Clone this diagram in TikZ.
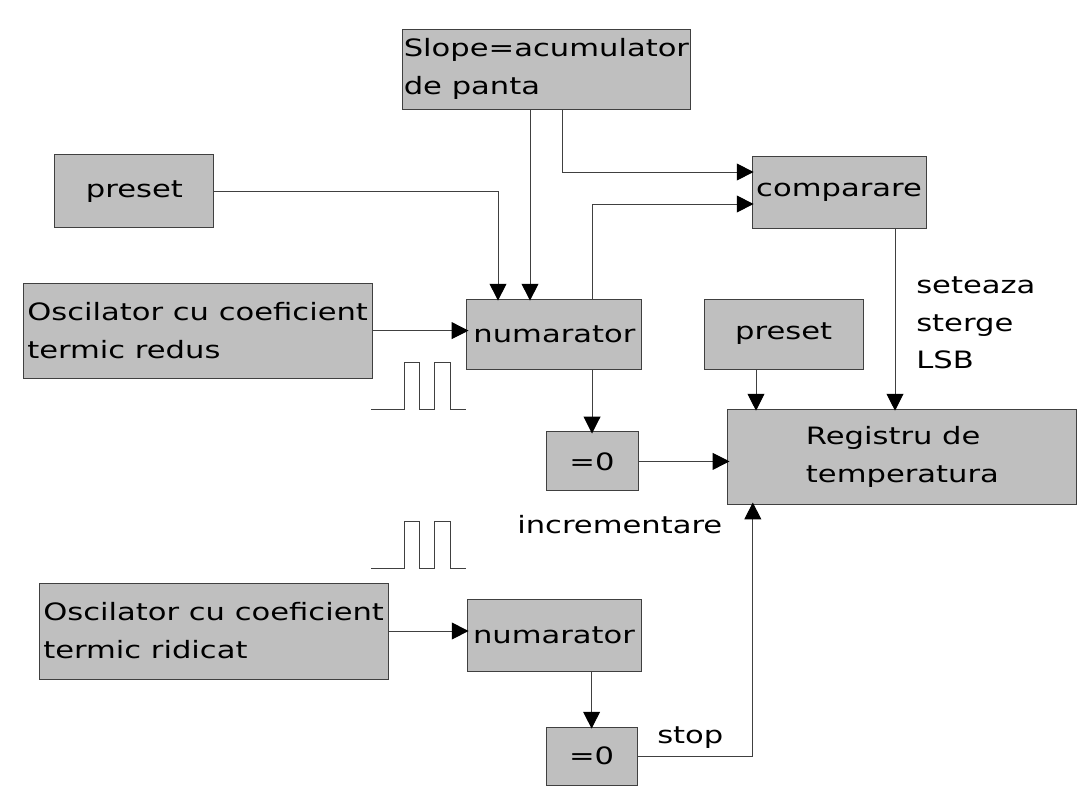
\documentclass[tikz,border=0pt]{standalone}
\usepackage{fontspec}
\setmainfont{DejaVu Sans}[FakeStretch=1.28]
\usetikzlibrary{arrows.meta}
\tikzset{
  blk/.style={draw=black!75, fill=gray!50, line width=0.7pt, inner sep=1pt, align=left,
    font=\fontsize{17}{27}\selectfont},
  arr/.style={-{Triangle[length=0.42cm, width=0.42cm, color=black]}, line width=0.7pt, black!75,
    shorten >=-1.5pt},
  wire/.style={line width=0.7pt, black!75},
  lbl/.style={font=\fontsize{17}{27}\selectfont, inner sep=0pt, align=left},
}

\begin{document}
\begin{tikzpicture}
  \useasboundingbox (0,0) rectangle (27.175,19.875);
  % blocks
  \node[blk, minimum width=7.125cm, minimum height=2cm] (slope) at (13.66,18.15) {Slope=acumulator\\de panta};
  \node[blk, minimum width=3.975cm, minimum height=1.825cm] (presetin) at (3.36,15.09) {preset};
  \node[blk, minimum width=4.35cm, minimum height=1.8cm] (comp) at (20.975,15.075) {comparare};
  \node[blk, minimum width=8.725cm, minimum height=2.375cm] (oscr) at (4.94,11.61) {Oscilator cu coeficient\\termic redus};
  \node[blk, minimum width=4.375cm, minimum height=1.75cm] (numr) at (13.86,11.525) {numarator};
  \node[blk, minimum width=3.975cm, minimum height=1.75cm] (presetreg) at (19.59,11.525) {preset};
  \node[blk, minimum width=2.3cm, minimum height=1.475cm] (zeror) at (14.8,8.34) {=0};
  \node[blk, minimum width=8.725cm, minimum height=2.375cm] (reg) at (22.56,8.46) {Registru de\\temperatura};
  \node[blk, minimum width=8.725cm, minimum height=2.4cm] (osch) at (5.34,4.1) {Oscilator cu coeficient\\termic ridicat};
  \node[blk, minimum width=4.35cm, minimum height=1.8cm] (numh) at (13.85,4.0) {numarator};
  \node[blk, minimum width=2.275cm, minimum height=1.45cm] (zeroh) at (14.79,0.975) {=0};

  % labels
  \node[lbl, anchor=north west] (setlbl) at (22.9,12.975) {seteaza\\sterge\\LSB};
  \node[lbl, anchor=base west] (inclbl) at (12.925,6.55) {incrementare};
  \node[lbl, anchor=base west] (stoplbl) at (16.425,1.3) {stop};

  % connectors
  \draw[arr] (presetin.east) -| ([xshift=-1.41cm]numr.north);
  \draw[arr] ([xshift=-0.41cm]slope.south) -- ([xshift=-0.41cm]slope.south |- numr.north);
  \draw[arr] ([xshift=0.39cm]slope.south) |- ([yshift=0.5cm]comp.west);
  \draw[arr] ([xshift=0.96cm]numr.north) |- ([yshift=-0.3cm]comp.west);
  \draw[arr] (oscr.east) -- (oscr.east -| numr.west);
  \draw[arr] (numr.south -| zeror.north) -- (zeror.north);
  \draw[arr] (zeror.east) -- (zeror.east -| reg.west);
  \draw[arr] ([xshift=-0.69cm]presetreg.south) -- ([xshift=-0.69cm]presetreg.south |- reg.north);
  \draw[arr] ([xshift=1.4cm]comp.south) -- ([xshift=1.4cm]comp.south |- reg.north);
  \draw[arr] (osch.east) -- (osch.east -| numh.west);
  \draw[arr] (numh.south -| zeroh.north) -- (zeroh.north);
  \draw[arr] (zeroh.east) -| ([xshift=-3.74cm]reg.south);

  % clock pulses
  \foreach \py in {9.65,5.675}
    \draw[wire] (9.28,\py) -- ++(0.82,0) -- ++(0,1.175) -- ++(0.38,0) -- ++(0,-1.175)
      -- ++(0.38,0) -- ++(0,1.175) -- ++(0.4,0) -- ++(0,-1.175) -- ++(0.4,0);
\end{tikzpicture}
\end{document}
